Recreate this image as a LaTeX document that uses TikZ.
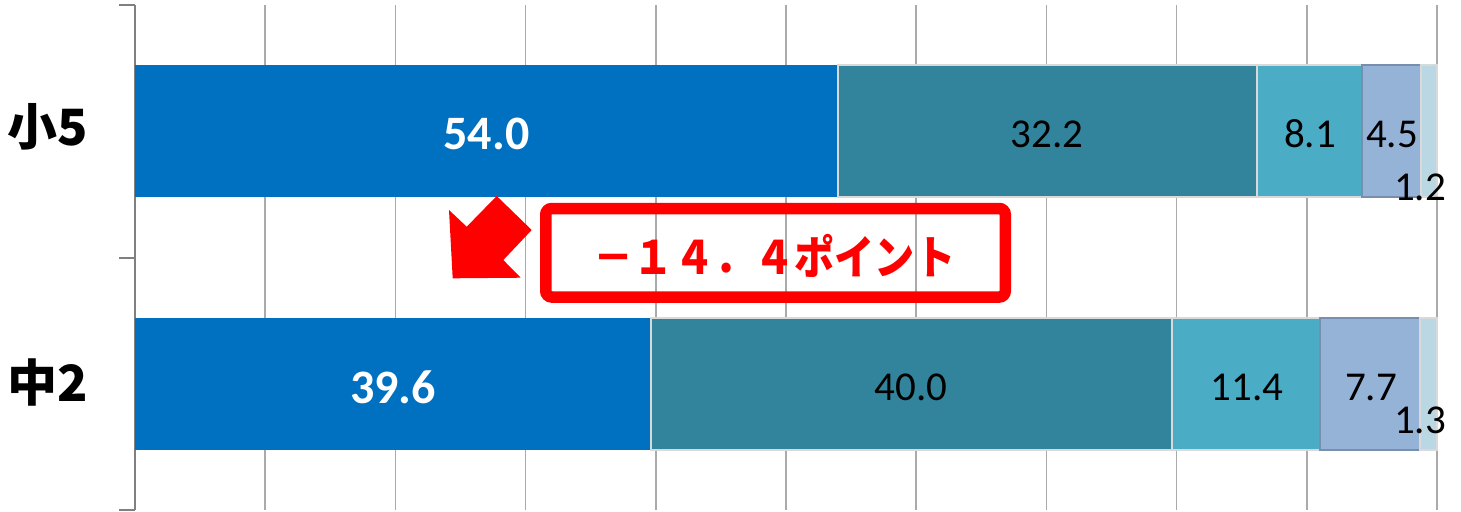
\documentclass[tikz,border=0pt]{standalone}
\usepackage{fontspec}
\setmainfont{Carlito}
\newfontfamily\jp{Noto Sans CJK JP}
\definecolor{ca}{HTML}{0070C0}
\definecolor{cb}{HTML}{31849B}
\definecolor{cc}{HTML}{4BACC6}
\definecolor{cd}{HTML}{95B3D7}
\definecolor{ce}{HTML}{BAD8E4}
\definecolor{gridc}{RGB}{170,170,170}
\definecolor{axisc}{RGB}{128,128,128}
\tikzset{
  gridline/.style={draw=gridc, line width=0.8pt},
  axisline/.style={draw=axisc, line width=0.8pt},
  seg/.style={draw=white!85!black, line width=0.6pt},
  val/.style={inner sep=0pt, font=\fontsize{20.5}{22}\selectfont},
  valw/.style={inner sep=0pt, text=white, font=\fontsize{24}{26}\selectfont\bfseries},
  cat/.style={inner sep=0pt, font=\jp\bfseries\fontsize{25}{27}\selectfont},
}
\begin{document}
\begin{tikzpicture}[x=0.5pt,y=-0.5pt]
\useasboundingbox (0,0) rectangle (1461,511);
\fill[white] (0,0) rectangle (1461,511);
% gridlines
\foreach \k in {1,...,10} {
  \draw[gridline] ({135+130.2*\k},5) -- ({135+130.2*\k},510);
}
% axis
\draw[axisline] (135,5) -- (135,510);
\draw[axisline] (119,5) -- (135,5);
\draw[axisline] (119,258) -- (135,258);
\draw[axisline] (119,510) -- (135,510);
% bar 1 (小5): 54.0 32.2 8.1 4.5 1.2
\fill[ca] (135,65) rectangle (838,197);
\draw[seg, fill=cb] (838,65) rectangle (1257,197);
\draw[seg, fill=cc] (1257,65) rectangle (1362,197);
\draw[draw=cd!80!black, line width=0.8pt, fill=cd] (1362,65) rectangle (1421,197);
\draw[seg, fill=ce] (1421,65) rectangle (1437,197);
% bar 2 (中2): 39.6 40.0 11.4 7.7 1.3
\fill[ca] (135,318) rectangle (651,450);
\draw[seg, fill=cb] (651,318) rectangle (1172,450);
\draw[seg, fill=cc] (1172,318) rectangle (1320,450);
\draw[draw=cd!80!black, line width=0.8pt, fill=cd] (1320,318) rectangle (1420,450);
\draw[seg, fill=ce] (1420,318) rectangle (1437,450);
% values
\node[valw] (v11) at (486.5,133.5) {54.0};
\node[val] (v12) at (1047,134) {32.2};
\node[val] (v13) at (1310,134) {8.1};
\node[val] (v14) at (1392,134) {4.5};
\node[val] (v15) at (1420,187) {1.2};
\node[valw] (v21) at (393,387) {39.6};
\node[val] (v22) at (911,387) {40.0};
\node[val] (v23) at (1247,387) {11.4};
\node[val] (v24) at (1371,387) {7.7};
\node[val] (v25) at (1420,420) {1.3};
% categories
\node[cat] (c1) at (48,127) {小5};
\node[cat] (c2) at (48,382) {中2};
% arrow
\fill[red] (452.7,278.3) -- (449,210) -- (466.7,226.7) -- (496.7,196) -- (531.7,230) -- (503.3,260) -- (520.7,277.7) -- cycle;
% box
\node[draw=red, line width=5.75pt, rounded corners=3pt, minimum width=229.75pt, minimum height=44.25pt, inner sep=0pt] (box) at (775.5,252.75) {};
\node[inner sep=0pt, text=red, font=\jp\bfseries\fontsize{23}{25}\selectfont] (lbl) at (774.5,256) {\scalebox{0.873}[1]{－１４．４ポイント}};
\end{tikzpicture}
\end{document}
